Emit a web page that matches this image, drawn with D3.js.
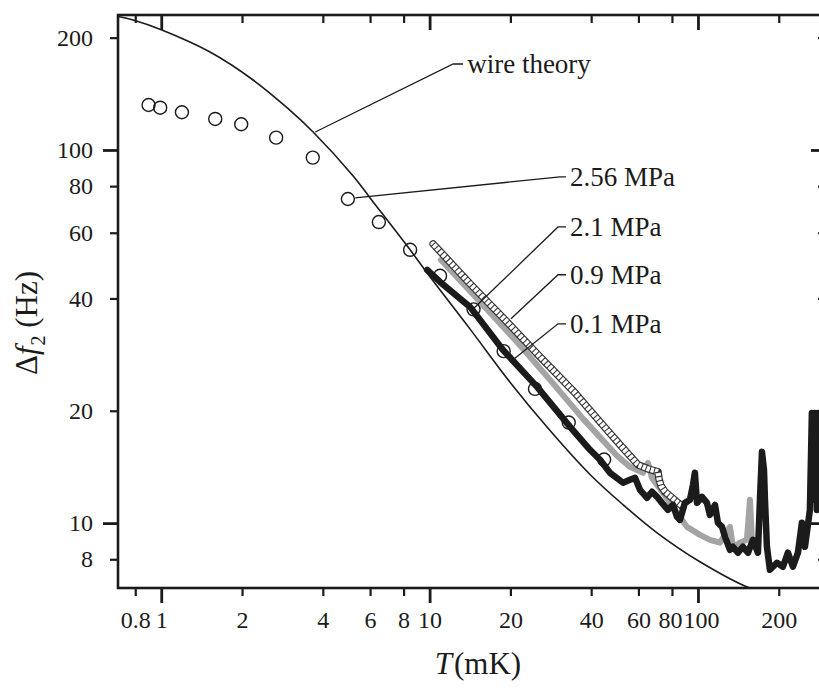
<!DOCTYPE html>
<html>
<head>
<meta charset="utf-8">
<script src="https://cdn.jsdelivr.net/npm/d3@7"></script>
<style>
  html, body { margin: 0; padding: 0; background: #fff; }
  svg { display: block; font-family: "Liberation Serif", "Times New Roman", serif; }
</style>
</head>
<body>
<svg id="chart" width="819" height="688"></svg>
<script>
// Temperature (mK) and linewidth (Hz) readings for each data set
const wireT = [0.69, 0.786, 1.0, 1.52, 2.20, 2.95, 3.68, 5.19, 6.0, 8.46, 9.79, 14.2, 19.9, 28.1, 39.6, 52.6, 70.4, 101.7, 156, 220];
const wireF = [228, 223, 210, 183, 154, 129.6, 111.7, 85.2, 74.4, 54.0, 46.8, 33.0, 23.9, 17.7, 13.5, 11.2, 9.42, 7.88, 6.7, 6.3];

const p256T = [0.897, 0.991, 1.194, 1.589, 1.986, 2.68, 3.67, 4.96, 6.47, 8.46, 10.94, 14.58, 18.88, 24.7, 33.0, 44.7];
const p256F = [132.0, 129.8, 126.2, 121.1, 117.2, 107.9, 95.4, 73.9, 64.1, 54.0, 46.0, 37.4, 28.9, 22.9, 18.6, 14.8];

const p21T = [10.31, 14.15, 19.11, 25.79, 34.83, 43.15, 51.23, 59.77, 65.1, 70.96, 71.6, 72.8, 75.4, 79.3, 83.5, 87.9];
const p21F = [56.0, 43.8, 35.05, 27.9, 22.34, 18.68, 16.21, 14.33, 13.98, 13.72, 13.14, 12.59, 12.13, 11.76, 11.40, 11.06];

const p09T = [11.03, 15.82, 21.18, 28.10, 37.62, 49.94, 55.8, 62.4, 65.1, 67.4, 74.1, 83.5, 91.0, 101.7, 110.8, 120.8, 131.6, 135.0, 143.3, 152.2, 156.2, 158.9];
const p09F = [50.73, 38.45, 30.59, 24.20, 18.91, 15.15, 14.15, 13.64, 14.50, 13.22, 12.06, 10.66, 9.77, 9.30, 9.02, 8.86, 9.77, 8.64, 8.86, 9.02, 11.55, 9.02];

const p01T = [9.79, 10.94, 14.15, 18.78, 25.15, 33.37, 39.6, 43.15, 47.0, 52.6, 55.8, 58.3, 60.8, 64.6, 67.4, 70.4, 73.4, 77.3, 80.7, 83.5, 85.7, 89.4, 93.4, 95.8, 97.4, 99.2, 103.5, 108.0, 110.8, 115.7, 118.7, 122.9, 126.1, 131.6, 135.0, 140.9, 147.1, 153.6, 160.3, 167.3, 170.2, 173.2, 176.2, 177.7, 180.7, 185.4, 196.9, 207.3, 216.4, 225.9, 235.8, 244.0, 250.4, 261.3, 265.8, 270.4, 272.7, 277.5, 279.9, 284.7];
const p01F = [47.7, 44.3, 37.97, 29.1, 23.18, 18.11, 15.72, 14.78, 13.64, 12.83, 13.06, 13.22, 12.28, 11.69, 12.13, 11.76, 11.33, 10.85, 11.19, 10.40, 10.20, 11.33, 11.55, 12.67, 13.64, 11.33, 11.76, 11.33, 10.52, 11.19, 10.02, 9.77, 9.19, 8.48, 8.64, 8.33, 8.64, 8.33, 9.02, 8.33, 11.55, 15.52, 13.89, 11.55, 8.64, 7.50, 7.83, 7.64, 8.33, 7.64, 8.33, 10.02, 8.64, 10.85, 19.74, 11.55, 19.74, 10.85, 19.74, 13.0];

// Axis ticks
const xMajorTicks = [1, 10, 100];
const xMinorTicks = [0.8, 2, 4, 6, 8, 20, 40, 60, 80, 200];
const yMajorTicks = [10, 100];
const yMinorTicks = [8, 20, 40, 60, 80, 200];

// Callout labels: text, point on the curve, elbow of the leader
const callouts = [
  { text: "wire theory", at: [3.75, 111.7], elbow: [12.24, 170], tail: 10 },
  { text: "2.56 MPa",    at: [5.28, 74.4],  elbow: [30.6, 84.7],  tail: 6 },
  { text: "2.1 MPa",     at: [14.65, 37.7], elbow: [30.1, 62.2],  tail: 8 },
  { text: "0.9 MPa",     at: [20.1, 35.3],  elbow: [30.1, 46.3],  tail: 8 },
  { text: "0.1 MPa",     at: [20.46, 27.4], elbow: [30.1, 34.2],  tail: 8 }
];

const zip = (a, b) => a.map((v, i) => [v, b[i]]);

const svg = d3.select("#chart");
const ink = "#1b1b1b";

const x = d3.scaleLog().domain([0.69, 300]).range([118, 826]);
const y = d3.scaleLog().domain([6.7, 230]).range([588, 15]);

const [x0, x1] = x.range();
const [y0, y1] = y.range();

svg.append("defs").append("clipPath").attr("id", "plot")
  .append("rect").attr("x", x0).attr("y", y1).attr("width", x1 - x0).attr("height", y0 - y1);

const plot = svg.append("g").attr("clip-path", "url(#plot)");

const line = d3.line().x(d => x(d[0])).y(d => y(d[1]));
const smooth = d3.line().x(d => x(d[0])).y(d => y(d[1])).curve(d3.curveCatmullRom.alpha(0.5));

// wire theory
plot.append("path")
  .attr("d", smooth(zip(wireT, wireF)))
  .attr("fill", "none").attr("stroke", ink).attr("stroke-width", 1.6);

// 0.9 MPa (grey)
plot.append("path")
  .attr("d", line(zip(p09T, p09F)))
  .attr("fill", "none").attr("stroke", "#a4a4a4").attr("stroke-width", 6)
  .attr("stroke-linejoin", "round").attr("stroke-linecap", "round");

// 2.1 MPa: beaded stroke (hollow tube crossed by short ribs)
const p21 = line(zip(p21T, p21F));
plot.append("path").attr("d", p21)
  .attr("fill", "none").attr("stroke", "#333").attr("stroke-width", 7.5)
  .attr("stroke-linejoin", "round").attr("stroke-linecap", "round");
plot.append("path").attr("d", p21)
  .attr("fill", "none").attr("stroke", "#fff").attr("stroke-width", 5.2)
  .attr("stroke-linejoin", "round").attr("stroke-linecap", "round");
plot.append("path").attr("d", p21)
  .attr("fill", "none").attr("stroke", "#333").attr("stroke-width", 7)
  .attr("stroke-dasharray", "1.1 3.2");

// 0.1 MPa (black)
plot.append("path")
  .attr("d", line(zip(p01T, p01F)))
  .attr("fill", "none").attr("stroke", ink).attr("stroke-width", 6.5)
  .attr("stroke-linejoin", "round").attr("stroke-linecap", "round");

// 2.56 MPa open circles
plot.append("g").selectAll("circle")
  .data(zip(p256T, p256F))
  .join("circle")
  .attr("cx", d => x(d[0])).attr("cy", d => y(d[1])).attr("r", 6.5)
  .attr("fill", "none").attr("stroke", ink).attr("stroke-width", 1.4);

// Frame
svg.append("rect")
  .attr("x", x0).attr("y", y1).attr("width", x1 - x0).attr("height", y0 - y1)
  .attr("fill", "none").attr("stroke", ink).attr("stroke-width", 2.6);

const fmt = d3.format("~g");
function styleAxis(g, w) {
  g.select(".domain").remove();
  g.selectAll(".tick line").attr("stroke", ink).attr("stroke-width", w);
  g.selectAll(".tick text").attr("fill", ink).attr("font-size", 24)
    .attr("font-family", "'Liberation Serif', 'Times New Roman', serif");
}

// Bottom axis
svg.append("g").attr("transform", `translate(0,${y0})`)
  .call(d3.axisBottom(x).tickValues(xMajorTicks).tickSize(15).tickPadding(8).tickFormat(fmt))
  .call(g => styleAxis(g, 2.8))
  .call(g => g.selectAll(".tick text").filter(d => d === 100).attr("dx", 3));
svg.append("g").attr("transform", `translate(0,${y0})`)
  .call(d3.axisBottom(x).tickValues(xMinorTicks).tickSize(8).tickPadding(15).tickFormat(fmt))
  .call(g => styleAxis(g, 2.2))
  .call(g => g.selectAll(".tick text").filter(d => d === 80).attr("dx", -2));

// Top axis (inward ticks)
svg.append("g").attr("transform", `translate(0,${y1})`)
  .call(d3.axisTop(x).tickValues(xMajorTicks).tickSize(-15).tickFormat(""))
  .call(g => styleAxis(g, 2.8));
svg.append("g").attr("transform", `translate(0,${y1})`)
  .call(d3.axisTop(x).tickValues(xMinorTicks).tickSize(-8).tickFormat(""))
  .call(g => styleAxis(g, 2.2));

// Left axis
svg.append("g").attr("transform", `translate(${x0},0)`)
  .call(d3.axisLeft(y).tickValues(yMajorTicks).tickSize(15).tickPadding(10).tickFormat(fmt))
  .call(g => styleAxis(g, 2.8));
svg.append("g").attr("transform", `translate(${x0},0)`)
  .call(d3.axisLeft(y).tickValues(yMinorTicks).tickSize(8).tickPadding(17).tickFormat(fmt))
  .call(g => styleAxis(g, 2.2));

// Right axis (inward ticks)
svg.append("g").attr("transform", `translate(${x1},0)`)
  .call(d3.axisRight(y).tickValues(yMajorTicks).tickSize(-15).tickFormat(""))
  .call(g => styleAxis(g, 2.8));
svg.append("g").attr("transform", `translate(${x1},0)`)
  .call(d3.axisRight(y).tickValues(yMinorTicks).tickSize(-8).tickFormat(""))
  .call(g => styleAxis(g, 2.2));

// Callouts
const cg = svg.append("g");
callouts.forEach(c => {
  const ax = x(c.at[0]), ay = y(c.at[1]);
  const ex = x(c.elbow[0]), ey = y(c.elbow[1]);
  cg.append("path")
    .attr("d", `M${ax},${ay}L${ex},${ey}h${c.tail}`)
    .attr("fill", "none").attr("stroke", ink).attr("stroke-width", 1.3);
  cg.append("text")
    .attr("x", ex + c.tail + 4).attr("y", ey + 9)
    .attr("font-size", 27).attr("fill", ink)
    .text(c.text);
});

// Axis titles
const xt = svg.append("text")
  .attr("x", 478).attr("y", 674).attr("text-anchor", "middle")
  .attr("font-size", 31).attr("fill", ink);
xt.append("tspan").attr("font-style", "italic").text("T");
xt.append("tspan").attr("dx", 2).text("(mK)");

const yt = svg.append("text")
  .attr("transform", "translate(37,323) rotate(-90)")
  .attr("text-anchor", "middle")
  .attr("font-size", 31).attr("fill", ink);
yt.append("tspan").text("Δ");
yt.append("tspan").attr("font-style", "italic").text("f");
yt.append("tspan").attr("font-size", 20).attr("dy", 8).attr("dx", 1).text("2");
yt.append("tspan").attr("dy", -8).text(" (Hz)");
</script>
</body>
</html>
